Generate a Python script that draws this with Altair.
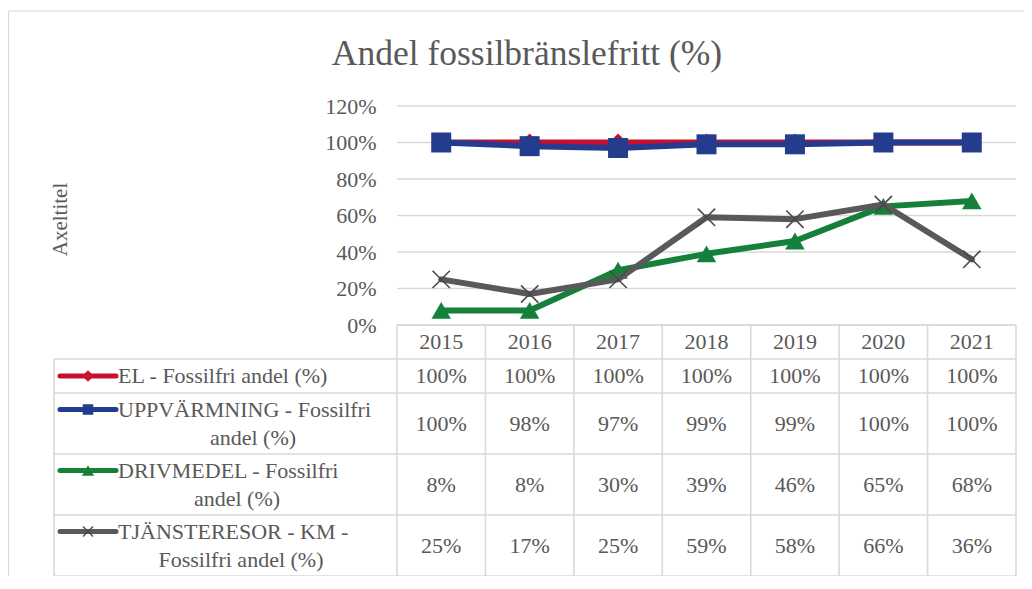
import altair as alt
import pandas as pd

# ---------------- data ----------------
years = ["2015", "2016", "2017", "2018", "2019", "2020", "2021"]
series_names = [
    "EL - Fossilfri andel (%)",
    "UPPVÄRMNING - Fossilfri andel (%)",
    "DRIVMEDEL - Fossilfri andel (%)",
    "TJÄNSTERESOR - KM - Fossilfri andel (%)",
]
# the same labels, wrapped as in the data table
series_label_lines = [
    ["EL - Fossilfri andel (%)"],
    ["UPPVÄRMNING - Fossilfri", "andel (%)"],
    ["DRIVMEDEL - Fossilfri", "andel (%)"],
    ["TJÄNSTERESOR - KM -", "Fossilfri andel (%)"],
]
el_values = [1.00, 1.00, 1.00, 1.00, 1.00, 1.00, 1.00]
uppv_values = [1.00, 0.98, 0.97, 0.99, 0.99, 1.00, 1.00]
driv_values = [0.08, 0.08, 0.30, 0.39, 0.46, 0.65, 0.68]
tj_values = [0.25, 0.17, 0.25, 0.59, 0.58, 0.66, 0.36]
y_tick_values = [0, 0.2, 0.4, 0.6, 0.8, 1.0, 1.2]
chart_title = "Andel fossilbränslefritt (%)"
y_axis_title = "Axeltitel"

values_by_series = [el_values, uppv_values, driv_values, tj_values]

# ---------------- style ----------------
FONT = "Liberation Serif"
TEXT_COLOR = "#595959"
LINE_COLOR = "#D9D9D9"
series_colors = ["#C8102E", "#233C8E", "#15803A", "#595959"]
marker_colors = ["#C8102E", "#233C8E", "#15803A", "#4A4A4A"]
X_PATH = "M-1,-1L1,1M-1,1L1,-1"
marker_shapes = ["diamond", "square", "triangle-up", X_PATH]
marker_sizes = [330, 400, 380, 300]
key_sizes = [130, 110, 150, 100]

# ---------------- layout (page px) ----------------
PLOT_L, PLOT_R = 397, 1016
ZERO_Y, TOP_Y = 325, 106
TABLE_L = 54
ROW_EDGES = [325, 359, 393, 454, 515, 576]
LINE_H = 28
n = len(years)
col_w = (PLOT_R - PLOT_L) / n
unit_h = (ZERO_Y - TOP_Y) / max(y_tick_values)


def ux(p):
    return (p - PLOT_L) / col_w


def uy(p):
    return (ZERO_Y - p) / unit_h


W = PLOT_R - TABLE_L
H = ROW_EDGES[-1] - TOP_Y
XS = alt.Scale(domain=[ux(TABLE_L), n], nice=False, zero=False)
YS = alt.Scale(domain=[uy(ROW_EDGES[-1]), max(y_tick_values)], nice=False, zero=False)

YAXIS = alt.Axis(
    values=y_tick_values, format=".0%", offset=-(PLOT_L - TABLE_L),
    domain=False, ticks=False, grid=False, labelPadding=21, zindex=1,
    labelFont=FONT, labelFontSize=22, labelColor=TEXT_COLOR,
    title=y_axis_title, titleFont=FONT, titleFontSize=21, titleFontWeight="normal",
    titleColor=TEXT_COLOR, titleAngle=270, titleAlign="center", titleBaseline="middle",
    titleX=60 - PLOT_L, titleY=219 - TOP_Y,
)


def X(f):
    return alt.X(f, type="quantitative", scale=XS, axis=None)


def Y(f):
    return alt.Y(f, type="quantitative", scale=YS, axis=YAXIS)


layers = []

# frame around the chart (decoration)
frame = alt.Chart(pd.DataFrame({"a": [0]}))
layers.append(frame.mark_rule(color=LINE_COLOR, strokeWidth=1.2).encode(
    x=alt.value(8.5 - TABLE_L), x2=alt.value(1024 - TABLE_L), y=alt.value(11 - TOP_Y)))
layers.append(frame.mark_rule(color=LINE_COLOR, strokeWidth=1.2).encode(
    x=alt.value(8.5 - TABLE_L), y=alt.value(11 - TOP_Y), y2=alt.value(600 - TOP_Y)))

# gridlines (y axis attached)
grid_df = pd.DataFrame({"v": y_tick_values, "x0": 0, "x1": n})
layers.append(alt.Chart(grid_df).mark_rule(color=LINE_COLOR, strokeWidth=1.3).encode(
    x=X("x0"), x2=alt.X2("x1"), y=Y("v")))

# table grid
h_edges = [(ROW_EDGES[0], PLOT_L)] + [(e, TABLE_L) for e in ROW_EDGES[1:]]
h_df = pd.DataFrame({"y": [uy(e) for e, _ in h_edges],
                     "x0": [ux(l) for _, l in h_edges], "x1": n})
layers.append(alt.Chart(h_df).mark_rule(color=LINE_COLOR, strokeWidth=1.6).encode(
    x=X("x0"), x2=alt.X2("x1"), y=Y("y")))
v_df = pd.DataFrame({"x": [ux(TABLE_L)] + list(range(n + 1)),
                     "y0": [uy(ROW_EDGES[1])] + [uy(ROW_EDGES[0])] * (n + 1),
                     "y1": uy(ROW_EDGES[-1])})
layers.append(alt.Chart(v_df).mark_rule(color=LINE_COLOR, strokeWidth=1.6).encode(
    x=X("x"), y=Y("y0"), y2=alt.Y2("y1")))

# series lines + markers
for s, vals in enumerate(values_by_series):
    df = pd.DataFrame({"x": [i + 0.5 for i in range(n)], "v": vals, "year": years})
    layers.append(alt.Chart(df).mark_line(
        color=series_colors[s], strokeWidth=6, strokeCap="round", strokeJoin="round"
    ).encode(x=X("x"), y=Y("v")))
    filled = marker_shapes[s] != X_PATH
    layers.append(alt.Chart(df).mark_point(
        shape=marker_shapes[s], size=marker_sizes[s], filled=filled,
        color=marker_colors[s], opacity=1, strokeWidth=1.6 if not filled else 0
    ).encode(x=X("x"), y=Y("v")))

# header row (years)
hdr_y = (ROW_EDGES[0] + ROW_EDGES[1]) / 2
hdr_df = pd.DataFrame({"x": [i + 0.5 for i in range(n)], "y": uy(hdr_y), "t": years})
text_kw = dict(font=FONT, fontSize=22, color=TEXT_COLOR, baseline="middle")
layers.append(alt.Chart(hdr_df).mark_text(align="center", **text_kw).encode(
    x=X("x"), y=Y("y"), text="t:N"))

# value cells, legend keys and labels
cell_rows, l1_rows, l2_rows = [], [], []
line2_centers = [228, 253, 237, 241]
for s, vals in enumerate(values_by_series):
    top, bot = ROW_EDGES[s + 1], ROW_EDGES[s + 2]
    mid = (top + bot) / 2
    for i, v in enumerate(vals):
        cell_rows.append({"x": i + 0.5, "y": uy(mid), "t": f"{round(v * 100)}%"})
    lines = series_label_lines[s]
    first_y = mid - (len(lines) - 1) / 2 * LINE_H
    l1_rows.append({"x": ux(118), "y": uy(first_y), "t": lines[0]})
    for k, ln in enumerate(lines[1:], start=1):
        l2_rows.append({"x": ux(line2_centers[s]), "y": uy(first_y + k * LINE_H), "t": ln})
    key_df = pd.DataFrame({"x0": [ux(60)], "x1": [ux(116)], "xm": [ux(88)],
                           "y": [uy(first_y)], "name": [series_names[s]]})
    layers.append(alt.Chart(key_df).mark_rule(
        color=series_colors[s], strokeWidth=5, strokeCap="round"
    ).encode(x=X("x0"), x2=alt.X2("x1"), y=Y("y")))
    filled = marker_shapes[s] != X_PATH
    layers.append(alt.Chart(key_df).mark_point(
        shape=marker_shapes[s], size=key_sizes[s], filled=filled,
        color=marker_colors[s], opacity=1, strokeWidth=1.4 if not filled else 0
    ).encode(x=X("xm"), y=Y("y")))

layers.append(alt.Chart(pd.DataFrame(cell_rows)).mark_text(align="center", **text_kw).encode(
    x=X("x"), y=Y("y"), text="t:N"))
layers.append(alt.Chart(pd.DataFrame(l1_rows)).mark_text(align="left", **text_kw).encode(
    x=X("x"), y=Y("y"), text="t:N"))
layers.append(alt.Chart(pd.DataFrame(l2_rows)).mark_text(align="center", **text_kw).encode(
    x=X("x"), y=Y("y"), text="t:N"))

# chart title
title_df = pd.DataFrame({"x": [ux(527)], "y": [uy(65)], "t": [chart_title]})
layers.append(alt.Chart(title_df).mark_text(
    align="center", baseline="alphabetic", font=FONT, fontSize=35.5, color=TEXT_COLOR
).encode(x=X("x"), y=Y("y"), text="t:N"))

chart = alt.layer(*layers).properties(
    width=W, height=H,
    autosize=alt.AutoSizeParams(type="none"),
    padding={"left": TABLE_L - 8, "top": TOP_Y - 8, "right": 8, "bottom": 0},
    background="white",
).configure_view(stroke=None)

chart.save("out.html", embed_options={"renderer": "svg", "actions": False})
